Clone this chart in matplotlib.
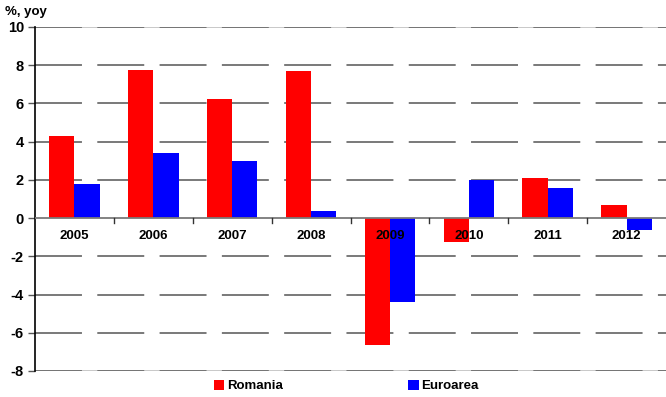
import matplotlib
matplotlib.use("Agg")
import matplotlib.pyplot as plt
import numpy as np

years = ["2005", "2006", "2007", "2008", "2009", "2010", "2011", "2012"]
romania = [4.3, 7.75, 6.25, 7.7, -6.65, -1.25, 2.1, 0.7]
euroarea = [1.8, 3.4, 3.0, 0.35, -4.4, 2.0, 1.6, -0.6]
series_names = ["Romania", "Euroarea"]
yticks = [-8, -6, -4, -2, 0, 2, 4, 6, 8, 10]

plt.rcParams['font.family'] = ['Liberation Sans', 'DejaVu Sans']
fig = plt.figure(figsize=(6.66, 3.97), dpi=100)
ax = fig.add_axes([35/666, 26/397, 1 - 35/666, (371-27)/397])

x = np.arange(len(years))
w = 0.32
for yv in (yticks[0], yticks[-1]):
    ax.axhline(yv, color='#c4c4c4', lw=1.3, zorder=0)
for yv in yticks:
    if yv == 0:
        continue
    ax.axhline(yv, color='#6e6e6e', lw=1.3, dashes=(26, 8.5), zorder=0.5)
ax.bar(x - w/2, romania, w, color='#ff0000', label=series_names[0], zorder=2)
ax.bar(x + w/2, euroarea, w, color='#0000ff', label=series_names[1], zorder=2)
ax.axhline(0, color='#7a7a7a', lw=1.3, zorder=3)
# category separators at zero line
for b in np.arange(0.5, len(years) - 0.5, 1.0):
    ax.plot([b, b], [0, -0.25], color='#333333', lw=1, zorder=3)

ax.set_xlim(-0.5, len(years) - 0.5)
ax.set_ylim(-8, 10)
ax.set_yticks(yticks)
ax.set_yticklabels([str(v) for v in yticks], fontsize=10.5, fontweight='bold')
ax.set_xticks([])
for s in ['top', 'right', 'bottom']:
    ax.spines[s].set_visible(False)
ax.spines['left'].set_color('black')
ax.spines['left'].set_linewidth(1.2)
ax.tick_params(axis='y', length=5, width=1, color='#555555', pad=3)

for i, yr in enumerate(years):
    ax.text(i, -0.95, yr, ha='center', va='center', fontsize=9.5, fontweight='bold', zorder=4)

fig.text(5/666, 1 - 12/397, "%, yoy", fontsize=9.5, fontweight='bold', va='center', ha='left')

leg = fig.legend(loc='center', bbox_to_anchor=(0.52, 1 - 386/397), ncol=2, frameon=False,
                 prop={'size': 9.5, 'weight': 'bold'}, handlelength=0.8, handleheight=0.8,
                 handletextpad=0.2, columnspacing=9.5)

fig.savefig("out.png", dpi=100)
